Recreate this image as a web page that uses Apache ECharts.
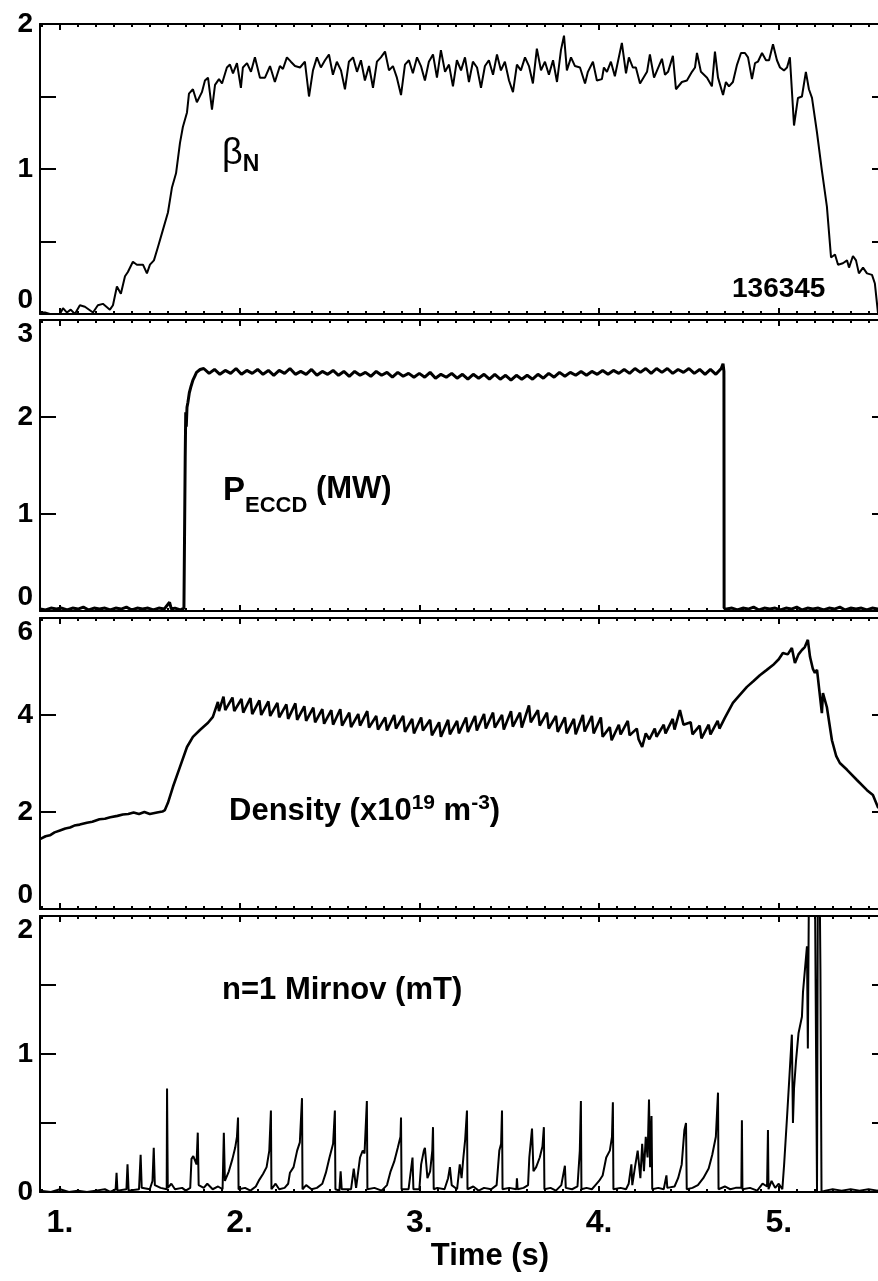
<!DOCTYPE html>
<html>
<head>
<meta charset="utf-8">
<script src="https://cdn.jsdelivr.net/npm/echarts@6/dist/echarts.min.js"></script>
<style>
  html, body { margin: 0; padding: 0; background: #fff; overflow: hidden; }
  #main { width: 878px; height: 1281px; }
</style>
</head>
<body>
<div id="main"></div>
<script>
// time axis
var timeMin = 0.889;
var timeMax = 5.608;
var majorTicks = [1, 2, 3, 4, 5];
var minorTicks = [0.9, 1.1, 1.2, 1.3, 1.4, 1.5, 1.6, 1.7, 1.8, 1.9, 2.1, 2.2, 2.3, 2.4, 2.5, 2.6, 2.7, 2.8, 2.9,
    3.1, 3.2, 3.3, 3.4, 3.5, 3.6, 3.7, 3.8, 3.9, 4.1, 4.2, 4.3, 4.4, 4.5, 4.6, 4.7, 4.8, 4.9,
    5.1, 5.2, 5.3, 5.4, 5.5, 5.6];

// beta_N  [t (s), value]
var betaN = [[0.889,0.01],[0.917,0.01],[0.944,0],[1.0,0],[1.017,0.04],[1.039,0.01],[1.06,0.03],[1.083,0],
    [1.111,0.06],[1.139,0.05],[1.184,0.01],[1.211,0.06],[1.239,0.07],[1.278,0.03],[1.295,0.06],[1.317,0.19],
    [1.339,0.14],[1.362,0.26],[1.378,0.29],[1.406,0.36],[1.428,0.34],[1.462,0.34],[1.484,0.28],[1.501,0.34],
    [1.523,0.37],[1.545,0.46],[1.573,0.58],[1.601,0.70],[1.623,0.87],[1.646,0.97],[1.668,1.18],[1.684,1.29],
    [1.707,1.39],[1.718,1.52],[1.740,1.55],[1.762,1.46],[1.790,1.53],[1.807,1.61],[1.824,1.63],[1.846,1.41],
    [1.863,1.58],[1.885,1.62],[1.902,1.59],[1.929,1.70],[1.946,1.72],[1.963,1.66],[1.985,1.73],[2.007,1.56],
    [2.018,1.70],[2.041,1.73],[2.063,1.67],[2.085,1.77],[2.113,1.63],[2.141,1.63],[2.169,1.71],[2.196,1.60],
    [2.224,1.71],[2.241,1.69],[2.263,1.77],[2.285,1.74],[2.308,1.71],[2.336,1.70],[2.363,1.74],[2.386,1.50],
    [2.408,1.68],[2.430,1.77],[2.452,1.70],[2.475,1.75],[2.497,1.79],[2.519,1.65],[2.541,1.74],[2.564,1.68],
    [2.586,1.55],[2.608,1.74],[2.631,1.77],[2.653,1.67],[2.675,1.75],[2.697,1.61],[2.720,1.71],[2.742,1.56],
    [2.764,1.74],[2.786,1.77],[2.809,1.81],[2.831,1.68],[2.853,1.71],[2.875,1.63],[2.898,1.51],[2.920,1.72],
    [2.942,1.75],[2.964,1.66],[2.987,1.77],[3.009,1.71],[3.031,1.61],[3.053,1.74],[3.076,1.79],[3.098,1.63],
    [3.120,1.82],[3.143,1.67],[3.165,1.72],[3.187,1.57],[3.209,1.75],[3.232,1.68],[3.254,1.77],[3.276,1.60],
    [3.298,1.74],[3.321,1.70],[3.343,1.56],[3.365,1.71],[3.387,1.75],[3.410,1.65],[3.432,1.79],[3.454,1.68],
    [3.476,1.74],[3.499,1.61],[3.521,1.53],[3.543,1.72],[3.565,1.68],[3.588,1.77],[3.610,1.71],[3.632,1.59],
    [3.654,1.83],[3.677,1.68],[3.699,1.74],[3.721,1.65],[3.744,1.75],[3.766,1.60],[3.788,1.82],[3.805,1.92],
    [3.821,1.68],[3.844,1.77],[3.866,1.71],[3.894,1.70],[3.922,1.59],[3.938,1.67],[3.966,1.74],[3.988,1.61],
    [4.016,1.62],[4.027,1.70],[4.044,1.67],[4.066,1.74],[4.088,1.64],[4.127,1.87],[4.150,1.66],[4.166,1.77],
    [4.188,1.70],[4.205,1.70],[4.228,1.59],[4.267,1.67],[4.283,1.79],[4.306,1.63],[4.350,1.76],[4.367,1.65],
    [4.384,1.67],[4.411,1.78],[4.428,1.55],[4.461,1.60],[4.489,1.61],[4.517,1.67],[4.534,1.70],[4.545,1.80],
    [4.567,1.67],[4.601,1.63],[4.628,1.57],[4.645,1.81],[4.662,1.63],[4.690,1.51],[4.706,1.60],[4.723,1.57],
    [4.745,1.60],[4.768,1.72],[4.790,1.80],[4.812,1.80],[4.829,1.77],[4.851,1.62],[4.868,1.73],[4.884,1.74],
    [4.907,1.80],[4.929,1.75],[4.946,1.75],[4.968,1.86],[4.990,1.75],[5.007,1.70],[5.029,1.68],[5.046,1.70],
    [5.062,1.77],[5.085,1.30],[5.107,1.49],[5.129,1.50],[5.151,1.67],[5.168,1.55],[5.185,1.49],[5.213,1.25],
    [5.240,0.99],[5.268,0.74],[5.291,0.39],[5.313,0.41],[5.330,0.34],[5.357,0.35],[5.380,0.37],[5.391,0.32],
    [5.413,0.40],[5.430,0.37],[5.446,0.28],[5.469,0.32],[5.491,0.28],[5.519,0.27],[5.535,0.21],[5.552,0.01],
    [5.58,0]];

// ECCD power (MW)
var peccd = [[0.89,0.02],[0.92,0.01],[0.95,0.03],[0.98,0.02],[1.01,0.03],[1.04,0.01],[1.07,0.03],[1.10,0.02],
    [1.13,0.04],[1.16,0.01],[1.19,0.03],[1.22,0.02],[1.25,0.03],[1.28,0.01],[1.31,0.03],[1.34,0.02],
    [1.37,0.04],[1.40,0.01],[1.43,0.03],[1.46,0.02],[1.49,0.03],[1.52,0.01],[1.55,0.03],[1.58,0.02],
    [1.61,0.09],[1.62,0.02],[1.64,0.03],[1.67,0.01],[1.69,0.03],[1.696,0.02],[1.697,1.58],[1.700,2.05],
    [1.703,1.90],[1.707,2.10],[1.712,2.15],[1.72,2.25],[1.73,2.32],[1.74,2.38],[1.75,2.42],[1.76,2.46],
    [1.78,2.49],[1.80,2.50],[1.83,2.45],[1.86,2.49],[1.89,2.44],[1.92,2.48],[1.95,2.45],[1.98,2.50],
    [2.01,2.44],[2.04,2.48],[2.07,2.45],[2.10,2.49],[2.13,2.44],[2.16,2.48],[2.19,2.43],[2.22,2.48],
    [2.25,2.45],[2.28,2.50],[2.31,2.44],[2.34,2.47],[2.37,2.44],[2.40,2.49],[2.43,2.43],[2.46,2.47],
    [2.49,2.44],[2.52,2.48],[2.55,2.43],[2.58,2.47],[2.61,2.42],[2.64,2.47],[2.67,2.43],[2.70,2.46],
    [2.73,2.42],[2.76,2.47],[2.79,2.43],[2.82,2.46],[2.85,2.41],[2.88,2.46],[2.91,2.42],[2.94,2.45],
    [2.97,2.41],[3.00,2.45],[3.03,2.41],[3.06,2.46],[3.09,2.40],[3.12,2.44],[3.15,2.41],[3.18,2.45],
    [3.21,2.40],[3.24,2.44],[3.27,2.39],[3.30,2.44],[3.33,2.40],[3.36,2.44],[3.39,2.39],[3.42,2.44],
    [3.45,2.39],[3.48,2.43],[3.51,2.38],[3.54,2.43],[3.57,2.39],[3.60,2.43],[3.63,2.39],[3.66,2.44],
    [3.69,2.40],[3.72,2.45],[3.75,2.41],[3.78,2.46],[3.81,2.42],[3.84,2.46],[3.87,2.43],[3.90,2.47],
    [3.93,2.43],[3.96,2.47],[3.99,2.44],[4.02,2.48],[4.05,2.44],[4.08,2.48],[4.11,2.45],[4.14,2.49],
    [4.17,2.45],[4.20,2.50],[4.23,2.46],[4.26,2.50],[4.29,2.45],[4.32,2.50],[4.35,2.46],[4.38,2.50],
    [4.41,2.45],[4.44,2.49],[4.47,2.46],[4.50,2.50],[4.53,2.45],[4.56,2.49],[4.59,2.44],[4.62,2.49],
    [4.65,2.44],[4.68,2.50],[4.69,2.55],[4.695,2.47],[4.696,0.03],[4.71,0.02],[4.74,0.03],[4.77,0.01],
    [4.80,0.03],[4.83,0.02],[4.86,0.04],[4.89,0.01],[4.92,0.03],[4.95,0.02],[4.98,0.03],[5.01,0.01],
    [5.04,0.03],[5.07,0.02],[5.10,0.04],[5.13,0.01],[5.16,0.03],[5.19,0.02],[5.22,0.03],[5.25,0.01],
    [5.28,0.03],[5.31,0.02],[5.34,0.04],[5.37,0.01],[5.40,0.03],[5.43,0.02],[5.46,0.03],[5.49,0.01],
    [5.52,0.03],[5.55,0.02],[5.60,0.03]];

// line averaged density (1e19 m^-3)
var density = [[0.889,1.44],[0.92,1.50],[0.944,1.52],[0.97,1.58],[1.00,1.62],[1.03,1.66],[1.056,1.68],
    [1.08,1.72],[1.11,1.74],[1.15,1.78],[1.18,1.80],[1.22,1.85],[1.25,1.86],[1.28,1.89],[1.32,1.92],
    [1.35,1.95],[1.38,1.96],[1.41,1.99],[1.44,1.96],[1.47,2.00],[1.50,1.96],[1.54,1.99],[1.57,2.01],
    [1.584,2.04],[1.601,2.19],[1.629,2.52],[1.668,2.93],[1.707,3.34],[1.74,3.55],[1.779,3.69],[1.824,3.84],
    [1.851,3.96],[1.879,4.27],[1.885,4.08],[1.91,4.38],[1.92,4.10],[1.96,4.36],[1.97,4.08],[2.01,4.33],
    [2.02,4.05],[2.06,4.35],[2.07,4.02],[2.11,4.30],[2.12,4.00],[2.16,4.28],[2.17,3.98],[2.21,4.25],
    [2.22,3.95],[2.26,4.22],[2.27,3.92],[2.31,4.24],[2.32,3.90],[2.36,4.18],[2.37,3.88],[2.41,4.15],
    [2.42,3.85],[2.46,4.12],[2.47,3.82],[2.51,4.10],[2.52,3.80],[2.56,4.12],[2.57,3.78],[2.61,4.05],
    [2.62,3.75],[2.66,4.02],[2.67,3.78],[2.71,4.08],[2.72,3.74],[2.76,3.98],[2.77,3.70],[2.81,3.95],
    [2.82,3.68],[2.86,4.00],[2.87,3.72],[2.91,3.98],[2.92,3.65],[2.96,3.92],[2.97,3.62],[3.01,3.95],
    [3.02,3.68],[3.06,3.90],[3.07,3.58],[3.11,3.85],[3.12,3.55],[3.16,3.90],[3.17,3.60],[3.21,3.88],
    [3.22,3.62],[3.26,3.95],[3.27,3.65],[3.31,3.98],[3.32,3.68],[3.36,4.02],[3.37,3.72],[3.41,4.05],
    [3.42,3.74],[3.46,4.00],[3.47,3.70],[3.51,4.08],[3.52,3.76],[3.56,4.05],[3.57,3.74],[3.61,4.20],
    [3.62,3.85],[3.66,4.10],[3.67,3.78],[3.71,4.05],[3.72,3.72],[3.76,3.98],[3.77,3.65],[3.81,3.95],
    [3.82,3.62],[3.86,3.92],[3.87,3.60],[3.91,4.00],[3.92,3.66],[3.96,3.98],[3.97,3.62],[4.01,3.95],
    [4.02,3.55],[4.06,3.75],[4.07,3.48],[4.11,3.80],[4.12,3.60],[4.16,3.88],[4.17,3.58],[4.21,3.72],
    [4.22,3.50],[4.24,3.34],[4.26,3.62],[4.28,3.50],[4.31,3.72],[4.32,3.55],[4.36,3.80],[4.37,3.62],
    [4.41,3.92],[4.42,3.70],[4.45,4.10],[4.47,3.80],[4.51,3.85],[4.52,3.60],[4.56,3.78],[4.57,3.52],
    [4.61,3.80],[4.62,3.60],[4.66,3.88],[4.67,3.72],[4.70,3.94],[4.745,4.25],[4.78,4.40],[4.823,4.58],
    [4.86,4.70],[4.895,4.82],[4.93,4.92],[4.968,5.03],[5.00,5.15],[5.023,5.28],[5.05,5.25],[5.073,5.38],
    [5.09,5.07],[5.11,5.25],[5.129,5.34],[5.145,5.40],[5.162,5.55],[5.174,5.20],[5.19,4.95],[5.201,4.87],
    [5.213,4.93],[5.24,4.04],[5.246,4.45],[5.268,4.16],[5.296,3.48],[5.32,3.15],[5.34,3.01],[5.38,2.87],
    [5.435,2.66],[5.491,2.45],[5.524,2.35],[5.552,2.10],[5.58,2.02]];

// n=1 Mirnov amplitude (mT)
var mirnov = [[0.889,0.01],[0.95,0],[1.00,0.02],[1.05,0],[1.10,0.01],[1.15,0],[1.20,0.01],[1.25,0.02],
    [1.28,0],[1.31,0.02],[1.315,0.14],[1.32,0.01],[1.37,0.02],[1.376,0.20],[1.382,0.01],[1.44,0.02],
    [1.449,0.27],[1.455,0.03],[1.50,0.02],[1.515,0.08],[1.522,0.32],[1.528,0.05],[1.56,0.03],[1.594,0.02],
    [1.596,0.75],[1.60,0.03],[1.62,0.06],[1.64,0.02],[1.68,0.03],[1.70,0.01],[1.725,0.03],[1.732,0.24],
    [1.742,0.26],[1.76,0.20],[1.767,0.43],[1.772,0.05],[1.80,0.03],[1.82,0.06],[1.85,0.02],[1.88,0.04],
    [1.905,0.02],[1.912,0.43],[1.918,0.08],[1.94,0.15],[1.96,0.24],[1.975,0.32],[1.985,0.40],[1.991,0.54],
    [1.994,0.02],[2.03,0.03],[2.06,0.01],[2.09,0.04],[2.11,0.09],[2.13,0.13],[2.15,0.18],[2.165,0.30],
    [2.174,0.59],[2.177,0.02],[2.20,0.06],[2.22,0.02],[2.25,0.03],[2.27,0.06],[2.28,0.14],[2.30,0.18],
    [2.32,0.30],[2.335,0.36],[2.347,0.68],[2.35,0.02],[2.37,0.05],[2.40,0.02],[2.43,0.03],[2.46,0.06],
    [2.48,0.14],[2.50,0.25],[2.52,0.35],[2.53,0.59],[2.533,0.02],[2.555,0.01],[2.562,0.15],[2.568,0.02],
    [2.62,0.02],[2.635,0.17],[2.642,0.17],[2.648,0.03],[2.67,0.25],[2.685,0.30],[2.695,0.28],[2.708,0.66],
    [2.711,0.02],[2.75,0.03],[2.79,0.01],[2.82,0.05],[2.84,0.15],[2.86,0.22],[2.88,0.32],[2.895,0.40],
    [2.898,0.54],[2.901,0.02],[2.94,0.02],[2.962,0.25],[2.967,0.02],[3.00,0.02],[3.01,0.20],[3.025,0.30],
    [3.031,0.32],[3.045,0.10],[3.06,0.15],[3.072,0.30],[3.076,0.47],[3.08,0.02],[3.10,0.03],[3.14,0.02],
    [3.16,0.10],[3.17,0.18],[3.18,0.05],[3.21,0.02],[3.225,0.20],[3.235,0.10],[3.245,0.25],[3.255,0.38],
    [3.265,0.59],[3.268,0.02],[3.30,0.04],[3.33,0.01],[3.36,0.03],[3.40,0.02],[3.43,0.05],[3.445,0.30],
    [3.455,0.35],[3.46,0.59],[3.463,0.02],[3.50,0.03],[3.54,0.02],[3.543,0.10],[3.547,0.02],[3.58,0.03],
    [3.605,0.05],[3.612,0.25],[3.627,0.46],[3.635,0.15],[3.65,0.18],[3.67,0.25],[3.685,0.33],[3.693,0.47],
    [3.696,0.02],[3.73,0.03],[3.76,0.01],[3.79,0.05],[3.81,0.19],[3.815,0.03],[3.85,0.02],[3.88,0.04],
    [3.893,0.30],[3.899,0.66],[3.902,0.02],[3.93,0.03],[3.96,0.02],[3.98,0.05],[4.00,0.08],[4.02,0.12],
    [4.04,0.25],[4.06,0.30],[4.072,0.40],[4.077,0.65],[4.08,0.02],[4.12,0.03],[4.15,0.02],[4.165,0.06],
    [4.18,0.20],[4.185,0.05],[4.20,0.18],[4.215,0.30],[4.23,0.10],[4.24,0.35],[4.25,0.15],[4.26,0.40],
    [4.27,0.25],[4.278,0.67],[4.284,0.18],[4.292,0.55],[4.296,0.02],[4.33,0.03],[4.36,0.02],[4.375,0.12],
    [4.38,0.03],[4.42,0.04],[4.44,0.10],[4.46,0.20],[4.475,0.45],[4.484,0.50],[4.488,0.02],[4.52,0.03],
    [4.55,0.05],[4.58,0.10],[4.61,0.17],[4.63,0.27],[4.65,0.40],[4.662,0.72],[4.665,0.02],[4.70,0.04],
    [4.73,0.02],[4.76,0.03],[4.792,0.03],[4.795,0.52],[4.798,0.02],[4.84,0.03],[4.88,0.01],[4.91,0.06],
    [4.935,0.04],[4.94,0.45],[4.943,0.02],[4.96,0.08],[4.98,0.03],[5.00,0.06],[5.02,0.02],[5.03,0.20],
    [5.046,0.54],[5.06,0.85],[5.073,1.14],[5.079,0.50],[5.085,0.75],[5.096,0.95],[5.11,1.15],[5.129,1.27],
    [5.135,1.45],[5.145,1.60],[5.157,1.78],[5.162,1.04],[5.168,2.20],[5.19,2.40],[5.201,2.30],[5.212,2.30],
    [5.213,0],[5.216,0],[5.218,2.40],[5.228,2.20],[5.232,1.60],[5.238,0],[5.26,0.01],[5.30,0.02],
    [5.35,0.01],[5.40,0.02],[5.45,0.01],[5.50,0.02],[5.55,0.01],[5.60,0.01]];

var FONT = '"Liberation Sans", Arial, Helvetica, sans-serif';

// panel layout: top, height, y max, tick interval
var panels = [
    { top: 24, height: 290, max: 2, interval: 0.5, data: betaN, minAlign: 'bottom', maxAlign: 'middle' },
    { top: 320, height: 291, max: 3, interval: 1, data: peccd, minAlign: 'bottom', maxAlign: 'top' },
    { top: 618, height: 291, max: 6, interval: 2, data: density, minAlign: 'bottom', maxAlign: 'top' },
    { top: 916, height: 276, max: 2, interval: 0.5, data: mirnov, minAlign: 'middle', maxAlign: 'top' }
];
var lineWidths = [2, 3, 2.6, 2];

var grids = [], xAxes = [], yAxes = [], series = [];

function xAxis(gi, pos, ticks, len, label) {
    return {
        gridIndex: gi, type: 'value', position: pos, min: timeMin, max: timeMax,
        axisLine: { show: len > 4, onZero: false, lineStyle: { color: '#000', width: 2 } },
        axisTick: { show: true, inside: true, length: len, customValues: ticks, lineStyle: { color: '#000', width: 2 } },
        axisLabel: label ? {
            show: true, customValues: majorTicks, margin: 15, color: '#000',
            fontSize: 32, fontWeight: 'bold', fontFamily: FONT,
            formatter: function (v) { return v + '.'; }
        } : { show: false },
        splitLine: { show: false }
    };
}

panels.forEach(function (p, i) {
    // plot frame runs past the right edge of the page
    grids.push({ left: 40, width: 848, top: p.top, height: p.height, containLabel: false, outerBoundsMode: 'none' });
    var last = i === panels.length - 1;
    xAxes.push(xAxis(i, 'bottom', majorTicks, 6, last));
    xAxes.push(xAxis(i, 'bottom', minorTicks, 3, false));
    xAxes.push(xAxis(i, 'top', majorTicks, 6, false));
    xAxes.push(xAxis(i, 'top', minorTicks, 3, false));
    ['left', 'right'].forEach(function (side) {
        yAxes.push({
            gridIndex: i, type: 'value', position: side, min: 0, max: p.max, interval: p.interval,
            axisLine: { show: true, onZero: false, lineStyle: { color: '#000', width: 2 } },
            axisTick: { show: true, inside: true, length: 16, lineStyle: { color: '#000', width: 2 } },
            axisLabel: side === 'left' ? {
                show: true, margin: 7, color: '#000', fontSize: 28, fontWeight: 'bold', fontFamily: FONT,
                verticalAlignMinLabel: p.minAlign, verticalAlignMaxLabel: p.maxAlign,
                formatter: function (v) { return v % 1 === 0 ? String(v) : ''; }
            } : { show: false },
            splitLine: { show: false }
        });
    });
    series.push({
        type: 'line', xAxisIndex: i * 4, yAxisIndex: i * 2, data: p.data,
        symbol: 'none', clip: true, animation: false,
        lineStyle: { color: '#000', width: lineWidths[i] }
    });
});

var myChart = echarts.init(document.getElementById('main'));
myChart.setOption({
    backgroundColor: '#fff',
    animation: false,
    grid: grids,
    xAxis: xAxes,
    yAxis: yAxes,
    series: series,
    graphic: [
        {
            type: 'text', x: 222, y: 136,
            style: {
                text: '{b|β}{n|N}', fill: '#000', verticalAlign: 'top', align: 'left',
                rich: {
                    b: { fontSize: 36, fontFamily: FONT, fontWeight: 'normal', lineHeight: 40, verticalAlign: 'top' },
                    n: { fontSize: 23, fontFamily: FONT, fontWeight: 'bold', lineHeight: 40, verticalAlign: 'bottom' }
                }
            }
        },
        {
            type: 'text', x: 732, y: 289,
            style: { text: '136345', fill: '#000', fontSize: 28, fontWeight: 'bold', fontFamily: FONT, verticalAlign: 'middle' }
        },
        {
            type: 'text', x: 223, y: 474,
            style: {
                text: '{p|P}{s|ECCD}{t| (MW)}', fill: '#000', verticalAlign: 'top', align: 'left',
                rich: {
                    p: { fontSize: 33, fontFamily: FONT, fontWeight: 'bold', lineHeight: 43, verticalAlign: 'top' },
                    s: { fontSize: 22, fontFamily: FONT, fontWeight: 'bold', lineHeight: 43, verticalAlign: 'bottom' },
                    t: { fontSize: 31, fontFamily: FONT, fontWeight: 'bold', lineHeight: 43, verticalAlign: 'top' }
                }
            }
        },
        {
            type: 'text', x: 229, y: 793,
            style: {
                text: '{t|Density (x10}{u|19}{t| m}{u|-3}{t|)}', fill: '#000', verticalAlign: 'top', align: 'left',
                rich: {
                    t: { fontSize: 31, fontFamily: FONT, fontWeight: 'bold', lineHeight: 34, verticalAlign: 'bottom' },
                    u: { fontSize: 21, fontFamily: FONT, fontWeight: 'bold', lineHeight: 34, verticalAlign: 'top' }
                }
            }
        },
        {
            type: 'text', x: 222, y: 990,
            style: { text: 'n=1 Mirnov (mT)', fill: '#000', fontSize: 31, fontWeight: 'bold', fontFamily: FONT, verticalAlign: 'middle' }
        },
        {
            type: 'text', x: 490, y: 1256,
            style: { text: 'Time (s)', fill: '#000', fontSize: 31, fontWeight: 'bold', fontFamily: FONT, align: 'center', verticalAlign: 'middle' }
        }
    ]
});
</script>
</body>
</html>
